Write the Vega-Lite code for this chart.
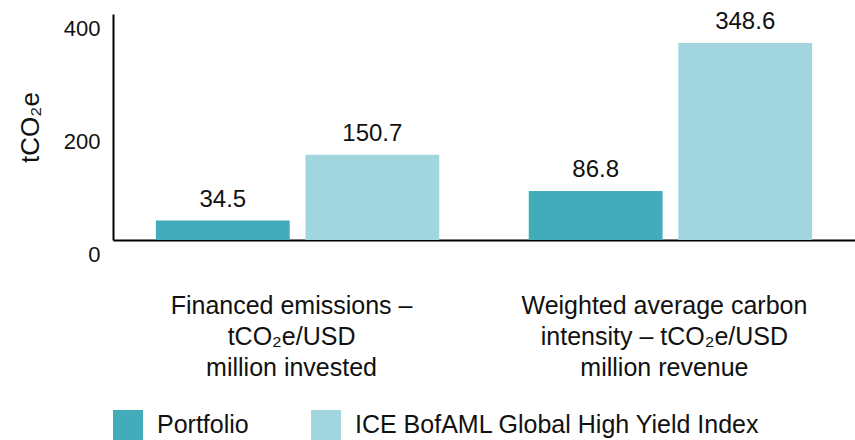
{
  "$schema": "https://vega.github.io/schema/vega-lite/v6.json",
  "autosize": "none",
  "padding": {"left": 113, "top": 14, "right": 0, "bottom": 200},
  "width": 742,
  "height": 226,
  "background": "white",
  "config": {
    "font": "Liberation Sans",
    "view": {"stroke": null}
  },
  "data": {
    "values": [
      {"metric": "Financed emissions –|tCO₂e/USD|million invested", "series": "Portfolio", "value": 34.5},
      {"metric": "Financed emissions –|tCO₂e/USD|million invested", "series": "ICE BofAML Global High Yield Index", "value": 150.7},
      {"metric": "Weighted average carbon|intensity – tCO₂e/USD|million revenue", "series": "Portfolio", "value": 86.8},
      {"metric": "Weighted average carbon|intensity – tCO₂e/USD|million revenue", "series": "ICE BofAML Global High Yield Index", "value": 348.6}
    ]
  },
  "encoding": {
    "x": {
      "field": "metric",
      "type": "nominal",
      "sort": null,
      "scale": {"paddingInner": 0.24, "paddingOuter": 0.115},
      "axis": {
        "title": null,
        "labelAngle": 0,
        "labelExpr": "split(datum.label, '|')",
        "labelFontSize": 25,
        "labelColor": "#111111",
        "labelLineHeight": 31,
        "labelPadding": 53,
        "labelOffset": -6,
        "labelBaseline": "top",
        "labelLimit": 0,
        "ticks": false,
        "domainColor": "#000000",
        "domainWidth": 2
      }
    },
    "xOffset": {
      "field": "series",
      "type": "nominal",
      "sort": ["Portfolio", "ICE BofAML Global High Yield Index"],
      "scale": {"paddingInner": 0.105, "paddingOuter": 0}
    },
    "y": {
      "field": "value",
      "type": "quantitative",
      "scale": {"domain": [0, 400], "nice": false},
      "axis": {
        "title": "tCO₂e",
        "titleFontSize": 26,
        "titleFontWeight": "normal",
        "titleColor": "#111111",
        "titlePadding": 20,
        "values": [0, 200, 400],
        "grid": false,
        "ticks": false,
        "labelFontSize": 22,
        "labelColor": "#111111",
        "labelPadding": 13,
        "labelOffset": 14,
        "domainColor": "#000000",
        "domainWidth": 2
      }
    }
  },
  "layer": [
    {
      "mark": {"type": "bar"},
      "encoding": {
        "color": {
          "field": "series",
          "type": "nominal",
          "sort": ["Portfolio", "ICE BofAML Global High Yield Index"],
          "scale": {
            "domain": ["Portfolio", "ICE BofAML Global High Yield Index"],
            "range": ["#43acbb", "#a2d6df"]
          },
          "legend": {
            "title": null,
            "orient": "none",
            "legendX": 0,
            "legendY": 396,
            "direction": "horizontal",
            "symbolType": "square",
            "symbolSize": 900,
            "symbolStrokeWidth": 0,
            "labelFontSize": 25,
            "labelColor": "#111111",
            "labelOffset": 14,
            "labelLimit": 0,
            "columnPadding": 62,
            "padding": 0
          }
        }
      }
    },
    {
      "mark": {"type": "text", "baseline": "alphabetic", "dy": -14, "fontSize": 24, "color": "#111111"},
      "encoding": {
        "text": {"field": "value", "type": "quantitative", "format": ".1f"}
      }
    }
  ]
}
